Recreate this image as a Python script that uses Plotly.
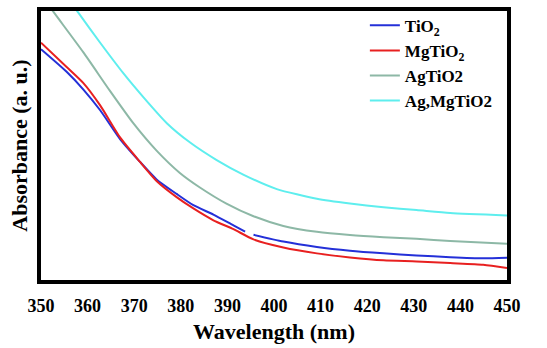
import plotly.graph_objects as go

tio2_x = [350, 355.5, 359.1, 362.7, 367.0, 371.2, 374.8, 379.1, 382.7, 387.0, 391.3, 393.8, None, 395.6, 402.0, 409.2, 416.3, 423.5, 430.6, 437.8, 444.9, 450]
tio2_y = [0.858, 0.774, 0.708, 0.631, 0.523, 0.440, 0.374, 0.320, 0.278, 0.243, 0.203, 0.180, None, 0.168, 0.143, 0.123, 0.109, 0.099, 0.091, 0.085, 0.081, 0.083]

mg_x = [350, 355.5, 359.1, 362.7, 367.0, 371.2, 374.8, 379.1, 382.7, 387.0, 391.3, 395.6, 402.0, 409.2, 416.3, 423.5, 430.6, 437.8, 444.9, 450]
mg_y = [0.882, 0.792, 0.732, 0.649, 0.529, 0.440, 0.368, 0.308, 0.266, 0.222, 0.189, 0.151, 0.121, 0.099, 0.084, 0.073, 0.069, 0.063, 0.057, 0.045]

ag_x = [350, 353.0, 359.1, 364.8, 369.8, 374.8, 379.8, 384.1, 389.8, 395.6, 402.0, 409.2, 416.3, 423.5, 430.6, 437.8, 450]
ag_y = [1.06, 0.989, 0.846, 0.703, 0.583, 0.481, 0.398, 0.344, 0.284, 0.237, 0.201, 0.179, 0.167, 0.159, 0.153, 0.145, 0.135]

agmg_x = [355, 358.2, 362.7, 367.7, 372.0, 377.0, 382.0, 387.7, 393.4, 400.6, 409.2, 416.3, 423.5, 430.6, 437.8, 450]
agmg_y = [1.065, 0.989, 0.882, 0.768, 0.679, 0.583, 0.511, 0.446, 0.392, 0.338, 0.302, 0.284, 0.270, 0.260, 0.249, 0.240]

tick_vals = [350, 360, 370, 380, 390, 400, 410, 420, 430, 440, 450]

series = [
    ("TiO<sub>2</sub>", tio2_x, tio2_y, "#2430d8"),
    ("MgTiO<sub>2</sub>", mg_x, mg_y, "#e82020"),
    ("AgTiO2", ag_x, ag_y, "#8db8a6"),
    ("Ag,MgTiO2", agmg_x, agmg_y, "#5eeeee"),
]

fig = go.Figure()
for name, xs, ys, c in series:
    fig.add_trace(go.Scatter(x=xs, y=ys, mode="lines", name=name,
                             line=dict(color=c, width=2, shape="spline", smoothing=0.6),
                             connectgaps=False))

font_family = "Liberation Serif"
fig.update_layout(
    width=547, height=348,
    margin=dict(l=41, r=40, t=7, b=62),
    paper_bgcolor="white", plot_bgcolor="white",
    showlegend=True,
    legend=dict(x=0.695, y=1.012, xanchor="left", yanchor="top",
                bgcolor="rgba(0,0,0,0)", borderwidth=0,
                font=dict(family=font_family, size=17, color="black", weight="bold"),
                itemwidth=30, tracegroupgap=4),
    xaxis=dict(range=[350, 450], tickvals=tick_vals, ticktext=[str(v) for v in tick_vals],
               showgrid=False, zeroline=False, showline=True, linecolor="black",
               linewidth=4, mirror=True, ticks="outside", ticklen=6, tickcolor="white",
               tickfont=dict(family=font_family, size=18, color="black", weight="bold"),
               title=dict(text="Wavelength (nm)", standoff=10,
                          font=dict(family=font_family, size=22, color="black", weight="bold"))),
    yaxis=dict(range=[0, 1], showticklabels=False, showgrid=False, zeroline=False,
               showline=True, linecolor="black", linewidth=4, mirror=True, ticks="",
               title=dict(text="Absorbance (a. u.)", standoff=4,
                          font=dict(family=font_family, size=22, color="black", weight="bold"))),
)

fig.write_html("out.html")
